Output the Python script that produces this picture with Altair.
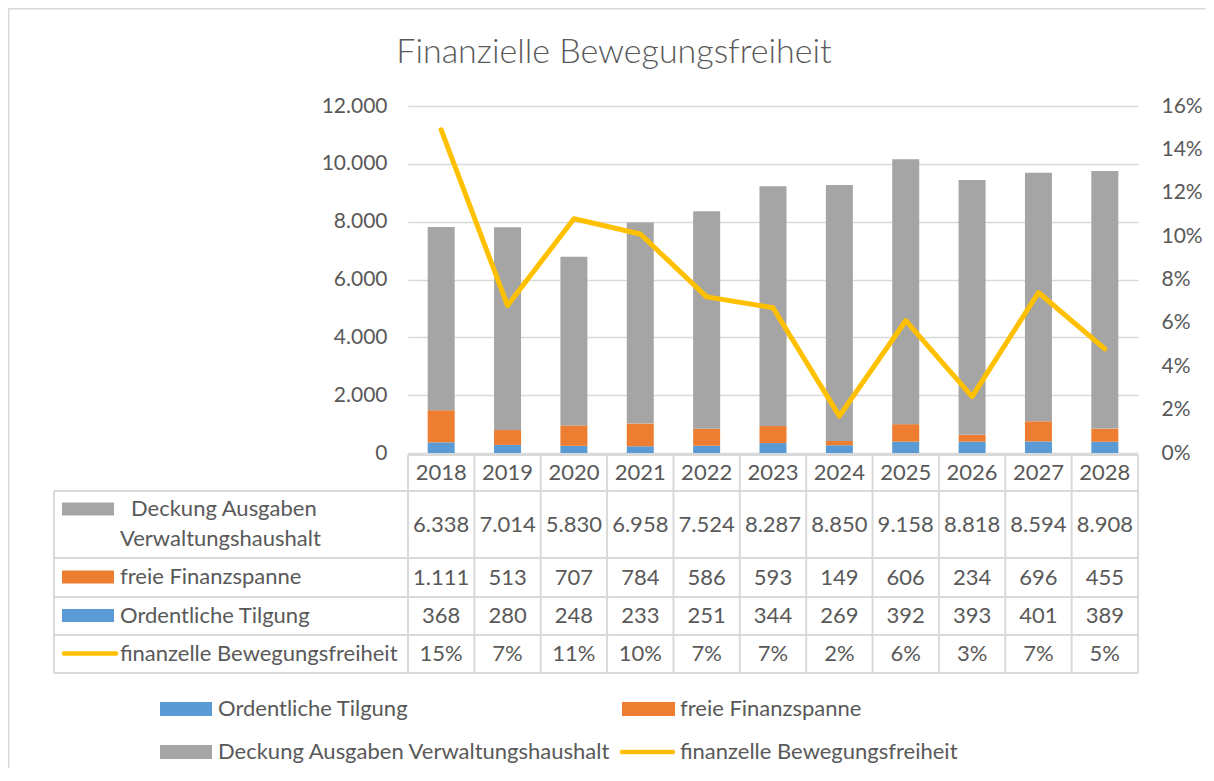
import altair as alt
import pandas as pd

# ---------------- data ----------------
years = ["2018", "2019", "2020", "2021", "2022", "2023", "2024", "2025", "2026", "2027", "2028"]
deckung = [6338, 7014, 5830, 6958, 7524, 8287, 8850, 9158, 8818, 8594, 8908]
freie = [1111, 513, 707, 784, 586, 593, 149, 606, 234, 696, 455]
tilgung = [368, 280, 248, 233, 251, 344, 269, 392, 393, 401, 389]
bewegung = [0.149, 0.068, 0.108, 0.101, 0.072, 0.067, 0.017, 0.061, 0.026, 0.074, 0.048]

name_tilgung = "Ordentliche Tilgung"
name_freie = "freie Finanzspanne"
name_deckung = "Deckung Ausgaben Verwaltungshaushalt"
name_line = "finanzelle Bewegungsfreiheit"
title_text = "Finanzielle Bewegungsfreiheit"

left_ticks = [0, 2000, 4000, 6000, 8000, 10000, 12000]
right_ticks = [0, 0.02, 0.04, 0.06, 0.08, 0.10, 0.12, 0.14, 0.16]

# ---------------- styles ----------------
C_BLUE, C_ORANGE, C_GRAY, C_YELLOW = "#5B9BD5", "#ED7D31", "#A5A5A5", "#FFC000"
TXT = "#595959"
GRID = "#D9D9D9"
FONT = "Lato"
FS_AX = 21
FS = 22

W, H = 730, 347


def de(v):
    return f"{v:,}".replace(",", ".")


rows = []
for i, y in enumerate(years):
    rows.append({"year": y, "series": name_tilgung, "value": tilgung[i], "ord": 0})
    rows.append({"year": y, "series": name_freie, "value": freie[i], "ord": 1})
    rows.append({"year": y, "series": name_deckung, "value": deckung[i], "ord": 2})
bars_df = pd.DataFrame(rows)

tab_df = pd.DataFrame({
    "year": years,
    "deckung_t": [de(v) for v in deckung],
    "freie_t": [de(v) for v in freie],
    "tilgung_t": [de(v) for v in tilgung],
    "pct": bewegung,
    "pct_t": [f"{round(v * 100)}%" for v in bewegung],
})

dummy = pd.DataFrame({"k": [0]})

xscale = alt.Scale(domain=years, paddingInner=0, paddingOuter=0)
X = alt.X("year:O", scale=xscale, axis=None)

bars = alt.Chart(bars_df).mark_bar(size=27).encode(
    x=X,
    y=alt.Y("value:Q", stack="zero",
            scale=alt.Scale(domain=[0, 12000], nice=False),
            axis=alt.Axis(values=left_ticks, title=None, grid=True, gridColor=GRID, gridWidth=1.5,
                          domain=False, ticks=False, labelPadding=21, labelFontSize=FS_AX,
                          labelColor=TXT, labelFont=FONT,
                          labelExpr="replace(format(datum.value, ','), ',', '.')")),
    color=alt.Color("series:N", scale=alt.Scale(domain=[name_tilgung, name_freie, name_deckung],
                                                range=[C_BLUE, C_ORANGE, C_GRAY]), legend=None),
    order=alt.Order("ord:Q"),
)

line = alt.Chart(tab_df).mark_line(color=C_YELLOW, strokeWidth=5, strokeCap="round", strokeJoin="round").encode(
    x=X,
    y=alt.Y("pct:Q", scale=alt.Scale(domain=[0, 0.16], nice=False),
            axis=alt.Axis(orient="right", values=right_ticks, format=".0%", title=None, grid=False,
                          domain=False, ticks=False, labelPadding=23, labelFontSize=FS_AX,
                          labelColor=TXT, labelFont=FONT)),
)

main = alt.layer(bars, line).resolve_scale(y="independent")


def txt(field, ypos):
    return alt.Chart(tab_df).mark_text(font=FONT, fontSize=FS, color=TXT, baseline="middle", align="center").encode(
        x=X, y=alt.value(ypos), text=f"{field}:N")


def label(s, x, y, size=FS, align="left", weight=400):
    return alt.Chart(pd.DataFrame({"t": [s]})).mark_text(
        font=FONT, fontSize=size, color=TXT, baseline="middle", align=align, fontWeight=weight).encode(
        x=alt.value(x), y=alt.value(y), text="t:N")


def hline(y, x1, x2, w=2):
    return alt.Chart(dummy).mark_rule(color=GRID, strokeWidth=w).encode(
        x=alt.value(x1), x2=alt.value(x2), y=alt.value(y))


def vline(x, y1, y2, w=2):
    return alt.Chart(dummy).mark_rule(color=GRID, strokeWidth=w).encode(
        x=alt.value(x), y=alt.value(y1), y2=alt.value(y2))


def swatch(x1, x2, yc, color, h=13):
    return alt.Chart(dummy).mark_rect(color=color).encode(
        x=alt.value(x1), x2=alt.value(x2), y=alt.value(yc - h / 2), y2=alt.value(yc + h / 2))


def lswatch(x1, x2, yc):
    return alt.Chart(dummy).mark_rule(color=C_YELLOW, strokeWidth=4.5, strokeCap="round").encode(
        x=alt.value(x1), x2=alt.value(x2), y=alt.value(yc))


# table grid
year_rules = alt.Chart(tab_df).mark_rule(color=GRID, strokeWidth=2).encode(
    x=alt.X("year:O", scale=xscale, axis=None, bandPosition=0), y=alt.value(349), y2=alt.value(567))

grid_layers = [
    hline(349, 0, W), hline(385, -354, W), hline(452, -354, W), hline(491, -354, W),
    hline(529, -354, W), hline(567, -354, W),
    vline(-354, 385, 567), vline(W, 349, 567), year_rules,
    # outer chart border (top and left)
    hline(-97.3, -400, 798, 1.5), vline(-399.3, -98, 667, 1.5),
]

table_layers = [
    txt("year", 367), txt("deckung_t", 418.5), txt("freie_t", 471.5),
    txt("tilgung_t", 510), txt("pct_t", 548),
    swatch(-346, -294, 403, C_GRAY), label("Deckung Ausgaben", -277, 403),
    label("Verwaltungshaushalt", -288, 433),
    swatch(-346, -294, 471, C_ORANGE), label(name_freie, -288, 471),
    swatch(-346, -294, 509.5, C_BLUE), label(name_tilgung, -288, 509.5),
    lswatch(-344, -292, 547.5), label(name_line, -288, 547.5),
]

legend_layers = [
    swatch(-248, -196, 603, C_BLUE, 14), label(name_tilgung, -190, 603),
    swatch(214, 267, 603, C_ORANGE, 14), label(name_freie, 272, 603),
    swatch(-248, -196, 646, C_GRAY, 14), label(name_deckung, -190, 646),
    lswatch(214, 265, 646), label(name_line, 272, 646),
]

title = label(title_text, 206, -53, size=34, align="center", weight=300)

chart = alt.layer(main, *grid_layers, *table_layers, *legend_layers, title).resolve_scale(
    y="independent"
).properties(
    width=W, height=H,
    padding={"left": 400, "top": 98, "right": 68, "bottom": 315},
    autosize=alt.AutoSizeParams(type="none"),
    background="white",
).configure_view(stroke=None)

chart.save("out.html", embed_options={"renderer": "svg", "actions": False})
